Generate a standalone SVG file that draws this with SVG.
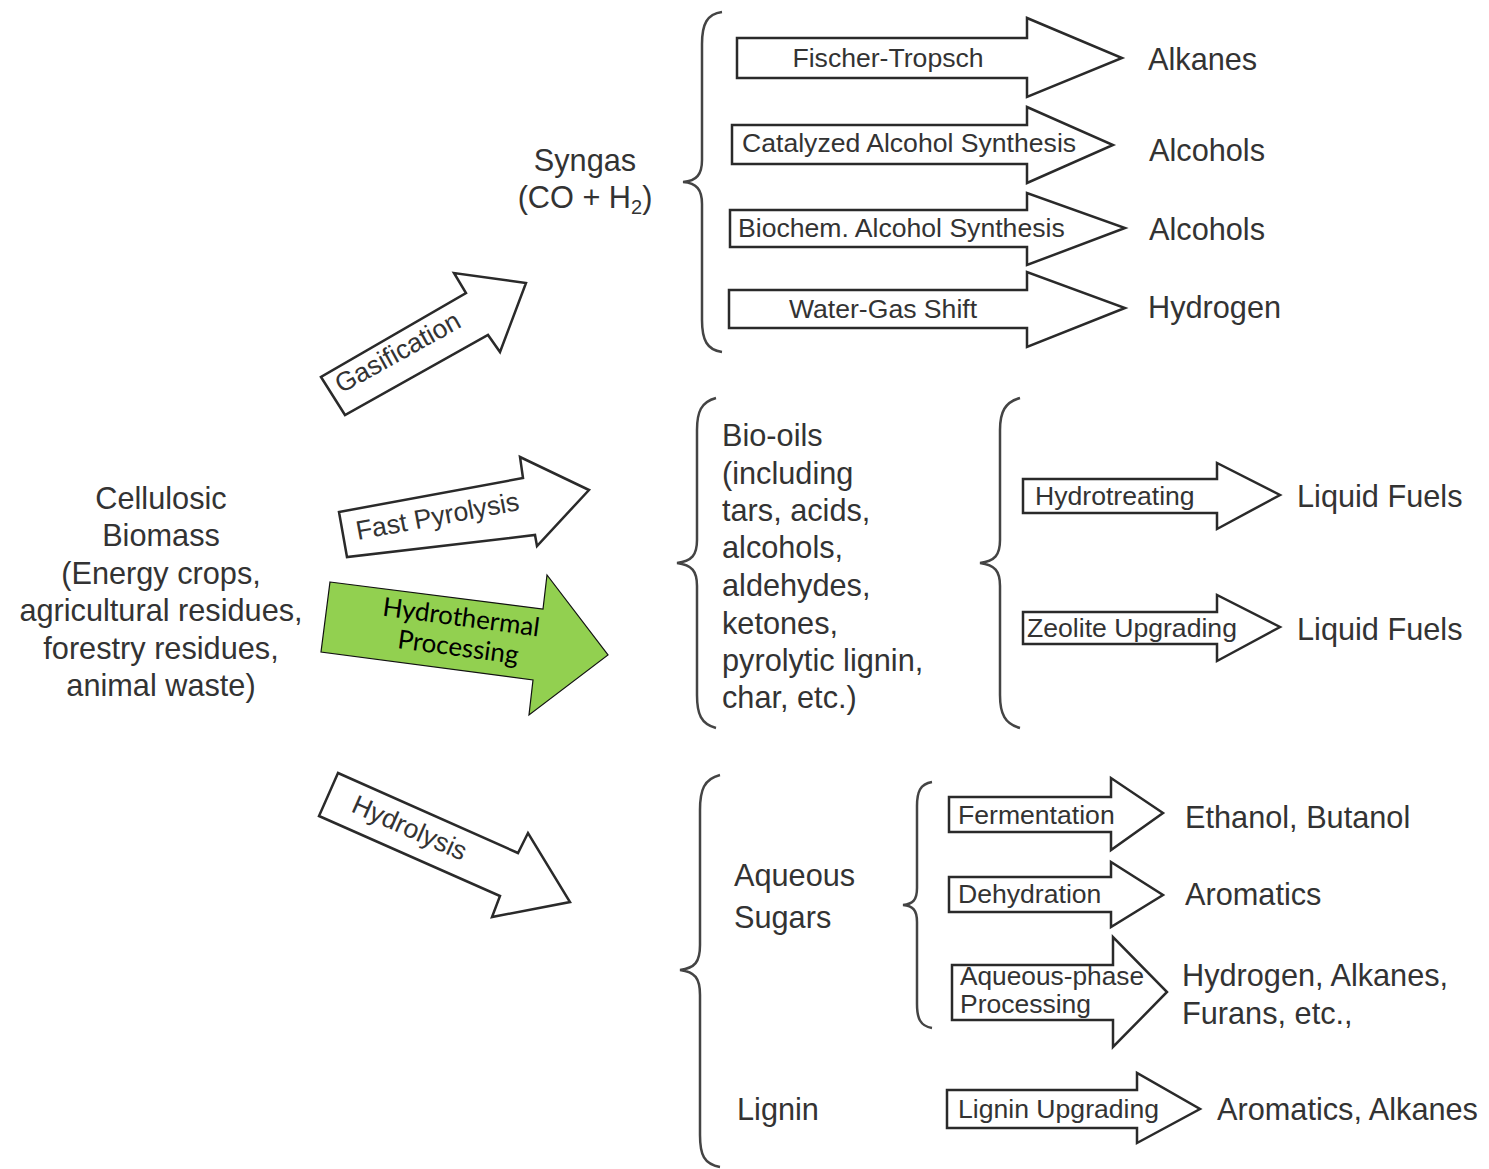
<svg xmlns="http://www.w3.org/2000/svg" width="1489" height="1169" viewBox="0 0 1489 1169">
<style>
.t{font-family:"Liberation Sans",Arial,sans-serif;font-size:30.7px;fill:#333}
.b{font-family:"Liberation Sans",Arial,sans-serif;font-size:26.6px;fill:#333}
.arr{fill:#fff;stroke:#2a2a2a;stroke-width:2.5;stroke-linejoin:miter}
.br{fill:none;stroke:#444;stroke-width:2.5}
.g{font-family:Lato,"Open Sans",sans-serif;font-size:26px;fill:#000}
</style>
<rect width="1489" height="1169" fill="#fff"/>
<g id="biomass">
<text class="t" text-anchor="middle" x="161" y="509">Cellulosic</text>
<text class="t" text-anchor="middle" x="161" y="546">Biomass</text>
<text class="t" text-anchor="middle" x="161" y="584">(Energy crops,</text>
<text class="t" text-anchor="middle" x="161" y="621">agricultural residues,</text>
<text class="t" text-anchor="middle" x="161" y="659">forestry residues,</text>
<text class="t" text-anchor="middle" x="161" y="696">animal waste)</text>
</g>
<g id="connectors">
<g id="gasification">
<polygon class="arr" points="321,377 345,415 488,335 500,352 526,283 454,273 466,293"/>
<text class="b" text-anchor="middle" transform="translate(402,360) rotate(-29)">Gasification</text>
</g>
<g id="fast-pyrolysis">
<polygon class="arr" points="339,512 347,557 535,535 537,546 589,490 520,457 523,478"/>
<text class="b" text-anchor="middle" transform="translate(439,525) rotate(-10.5)">Fast Pyrolysis</text>
</g>
<g id="hydrothermal">
<polygon points="330,582 543,609 547,575 608,655 529,715 533,680 321,652" fill="#92D050" stroke="#111" stroke-width="1.2"/>
<text class="g" text-anchor="middle" transform="translate(460,626) rotate(7.6)">Hydrothermal</text>
<text class="g" text-anchor="middle" transform="translate(457,656) rotate(7.6)">Processing</text>
</g>
<g id="hydrolysis">
<polygon class="arr" points="338,773 319,816 500,896 492,917 570,902 528,833 518,853"/>
<text class="b" text-anchor="middle" transform="translate(406,836) rotate(24)">Hydrolysis</text>
</g>
</g>
<g id="syngas">
<text class="t" text-anchor="middle" x="585" y="171">Syngas</text>
<text class="t" text-anchor="middle" x="585" y="208">(CO + H<tspan font-size="20" dy="6">2</tspan><tspan dy="-6">)</tspan></text>
<path class="br" d="M722,12 C707,14 702,24 702,44 L702,160 C702,174 697,181 683,182 C697,183 702,190 702,204 L702,320 C702,340 707,350 722,352"/>
</g>
<g id="fischer">
<polygon class="arr" points="737,38 1027,38 1027,18 1122,58 1027,97 1027,78 737,78"/>
<text class="b" text-anchor="middle" x="888" y="67">Fischer-Tropsch</text>
<text class="t" x="1148" y="70">Alkanes</text>
</g>
<g id="catalyzed">
<polygon class="arr" points="732,125 1027,125 1027,107 1113,145 1027,183 1027,164 732,164"/>
<text class="b" x="742" y="152">Catalyzed Alcohol Synthesis</text>
<text class="t" x="1149" y="161">Alcohols</text>
</g>
<g id="biochem">
<polygon class="arr" points="730,210 1027,210 1027,193 1125,228 1027,265 1027,247 730,247"/>
<text class="b" x="738" y="237">Biochem. Alcohol Synthesis</text>
<text class="t" x="1149" y="240">Alcohols</text>
</g>
<g id="wgs">
<polygon class="arr" points="729,290 1027,290 1027,272 1125,308 1027,347 1027,328 729,328"/>
<text class="b" text-anchor="middle" x="883" y="318">Water-Gas Shift</text>
<text class="t" x="1148" y="318">Hydrogen</text>
</g>
<g id="biooils">
<path class="br" d="M716,398 C701,402 697,412 697,430 L697,540 C697,555 692,561 677,563 C692,565 697,571 697,586 L697,695 C697,714 701,724 716,728"/>
<text class="t" x="722" y="446">Bio-oils</text>
<text class="t" x="722" y="484">(including</text>
<text class="t" x="722" y="521">tars, acids,</text>
<text class="t" x="722" y="558">alcohols,</text>
<text class="t" x="722" y="596">aldehydes,</text>
<text class="t" x="722" y="634">ketones,</text>
<text class="t" x="722" y="671">pyrolytic lignin,</text>
<text class="t" x="722" y="708">char, etc.)</text>
<path class="br" d="M1020,398 C1005,402 1000,412 1000,430 L1000,540 C1000,555 995,561 980,563 C995,565 1000,571 1000,586 L1000,695 C1000,714 1005,724 1020,728"/>
</g>
<g id="hydrotreating">
<polygon class="arr" points="1023,479 1217,479 1217,463 1280,495 1217,529 1217,513 1023,513"/>
<text class="b" x="1035" y="505">Hydrotreating</text>
<text class="t" x="1297" y="507">Liquid Fuels</text>
</g>
<g id="zeolite">
<polygon class="arr" points="1023,612 1217,612 1217,595 1280,627 1217,661 1217,644 1023,644"/>
<text class="b" x="1027" y="637">Zeolite Upgrading</text>
<text class="t" x="1297" y="640">Liquid Fuels</text>
</g>
<g id="hydrolysis-products">
<path class="br" d="M720,775 C704,779 700,790 700,810 L700,945 C700,962 695,968 680,970 C695,972 700,978 700,995 L700,1135 C700,1155 704,1164 720,1167"/>
<text class="t" x="734" y="886">Aqueous</text>
<text class="t" x="734" y="928">Sugars</text>
<text class="t" x="737" y="1120">Lignin</text>
<path class="br" d="M932,782 C920,784 917,792 917,806 L917,888 C917,900 913,904 903,905 C913,906 917,910 917,922 L917,1004 C917,1018 920,1026 932,1028"/>
</g>
<g id="fermentation">
<polygon class="arr" points="949,797 1111,797 1111,778 1163,813 1111,850 1111,832 949,832"/>
<text class="b" x="958" y="824">Fermentation</text>
<text class="t" x="1185" y="828">Ethanol, Butanol</text>
</g>
<g id="dehydration">
<polygon class="arr" points="949,877 1111,877 1111,862 1163,895 1111,927 1111,912 949,912" stroke-width="3.2"/>
<text class="b" x="958" y="903">Dehydration</text>
<text class="t" x="1185" y="905">Aromatics</text>
</g>
<g id="aqueous-phase">
<polygon class="arr" points="952,965 1113,965 1113,937 1167,992 1113,1047 1113,1020 952,1020" stroke="#555" stroke-width="2"/>
<text class="b" x="960" y="985" font-size="24" textLength="184" lengthAdjust="spacingAndGlyphs">Aqueous-phase</text>
<text class="b" x="960" y="1013" font-size="24" textLength="131" lengthAdjust="spacingAndGlyphs">Processing</text>
<text class="t" x="1182" y="986">Hydrogen, Alkanes,</text>
<text class="t" x="1182" y="1024">Furans, etc.,</text>
</g>
<g id="lignin-upgrading">
<polygon class="arr" points="947,1090 1137,1090 1137,1073 1200,1109 1137,1143 1137,1128 947,1128"/>
<text class="b" x="958" y="1118">Lignin Upgrading</text>
<text class="t" x="1217" y="1120">Aromatics, Alkanes</text>
</g>
</svg>
